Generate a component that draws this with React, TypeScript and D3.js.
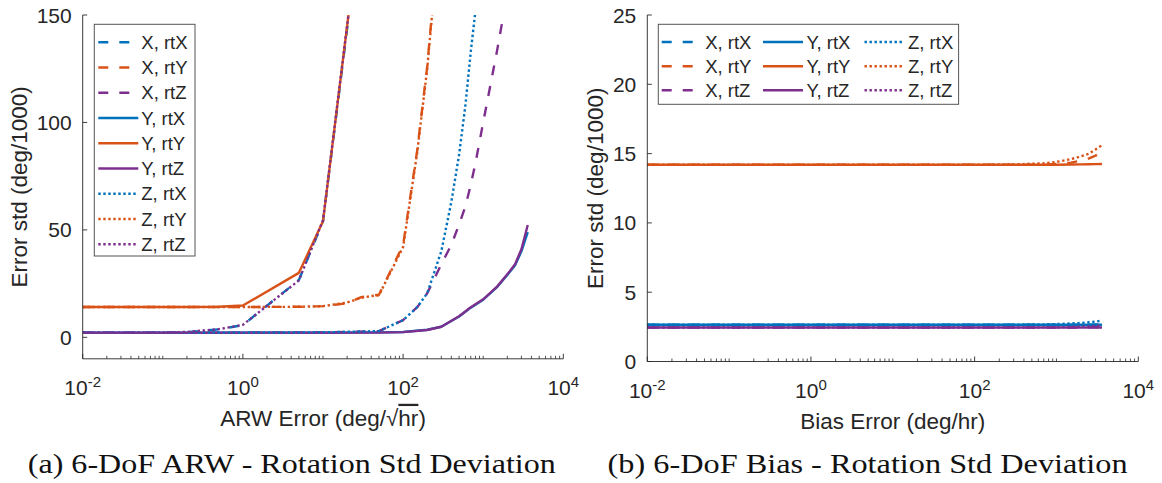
import React from 'react';
import * as d3 from 'd3';

const BLUE = '#0072BD';
const ORANGE = '#D95319';
const PURPLE = '#7E2F8E';
const INK = '#262626';

// ---------- (a) ARW panel data ----------
const arwXSteep = [0.01, 0.1, 0.2, 0.5, 1, 5, 10, 50];
const arwXrtX = [2.2, 2.2, 2.4, 3.7, 5.7, 26.7, 54, 262];
const arwYrtY = [14.1, 14.1, 14.1, 14.2, 14.8, 30, 54, 265];
const arwZrtZ = [2.2, 2.2, 2.5, 3.8, 5.8, 26.5, 54.5, 265];

const arwXMid = [0.01, 1, 5, 10, 20, 30, 40, 50, 100, 150, 200, 300];
const arwXrtY = [14.1, 14.1, 14.2, 14.5, 15.8, 18.7, 19.4, 19.8, 43, 87, 126, 200];
const arwZrtY = [14.1, 14.1, 14.2, 14.5, 16.2, 18.4, 19.2, 19.6, 42, 86, 125, 198];

const arwXSlow = [0.01, 1, 10, 50, 100, 150, 200, 300, 400, 500, 600, 700, 800, 1000, 1500, 2000];
const arwZrtX = [2.2, 2.2, 2.3, 2.9, 8.0, 14, 20.5, 40, 63, 85, 108, 133, 152, 200, 290, 380];
const arwXrtZ = [2.2, 2.2, 2.3, 2.9, 8.0, 14, 20.5, 34, 43, 52.5, 61, 71, 81, 100, 134, 160];

const arwXFlat = [0.01, 1, 10, 50, 100, 200, 300, 500, 700, 1000, 1500, 2000, 2500, 3000, 3600];
const arwYrtX = [2.2, 2.2, 2.2, 2.3, 2.5, 3.5, 4.9, 9.7, 13.8, 17.5, 23.5, 29, 33.5, 40, 49];
const arwYrtZ = [2.1, 2.1, 2.1, 2.2, 2.4, 3.4, 4.9, 9.8, 14, 17.7, 23.7, 29.3, 34, 41, 52.3];

// ---------- (b) Bias panel data ----------
const biasX = [0.01, 1, 100, 300, 700, 1000, 1500, 2000, 2500, 3000, 3600];
const biasXrtX = [2.65, 2.65, 2.65, 2.65, 2.65, 2.65, 2.65, 2.66, 2.66, 2.67, 2.68];
const biasXrtY = [14.2, 14.2, 14.2, 14.2, 14.2, 14.25, 14.35, 14.5, 14.65, 14.85, 15.1];
const biasXrtZ = [2.45, 2.45, 2.45, 2.45, 2.45, 2.45, 2.45, 2.46, 2.46, 2.47, 2.48];
const biasYrtX = [2.65, 2.65, 2.65, 2.65, 2.65, 2.65, 2.65, 2.65, 2.65, 2.65, 2.65];
const biasYrtY = [14.2, 14.2, 14.2, 14.2, 14.2, 14.2, 14.21, 14.22, 14.23, 14.24, 14.25];
const biasYrtZ = [2.45, 2.45, 2.45, 2.45, 2.45, 2.45, 2.45, 2.45, 2.45, 2.45, 2.45];
const biasZrtX = [2.65, 2.65, 2.65, 2.66, 2.68, 2.7, 2.74, 2.78, 2.83, 2.88, 2.95];
const biasZrtY = [14.2, 14.2, 14.2, 14.22, 14.3, 14.4, 14.6, 14.8, 15.0, 15.3, 15.6];
const biasZrtZ = [2.45, 2.45, 2.45, 2.45, 2.46, 2.47, 2.49, 2.51, 2.53, 2.56, 2.6];

const seriesLabels = ['X, rtX', 'X, rtY', 'X, rtZ', 'Y, rtX', 'Y, rtY', 'Y, rtZ', 'Z, rtX', 'Z, rtY', 'Z, rtZ'];
const seriesColors = [BLUE, ORANGE, PURPLE, BLUE, ORANGE, PURPLE, BLUE, ORANGE, PURPLE];
const seriesStyles = ['dashed', 'dashed', 'dashed', 'solid', 'solid', 'solid', 'dotted', 'dotted', 'dotted'];

const arwYTicks = [0, 50, 100, 150];
const biasYTicks = [0, 5, 10, 15, 20, 25];
const xMajorExp = [-2, 0, 2, 4];

const DASH: Record<string, string | undefined> = {
  dashed: '10 11',
  solid: undefined,
  dotted: '2.4 2.6',
};
const LW = 2.4;

type S = { label: string; color: string; style: string; xs: number[]; ys: number[] };

function makeSeries(xsList: number[][], ysList: number[][]): S[] {
  return seriesLabels.map((label, i) => ({
    label,
    color: seriesColors[i],
    style: seriesStyles[i],
    xs: xsList[i],
    ys: ysList[i],
  }));
}

const arwSeries = makeSeries(
  [arwXSteep, arwXMid, arwXSlow, arwXFlat, arwXSteep, arwXFlat, arwXSlow, arwXMid, arwXSteep],
  [arwXrtX, arwXrtY, arwXrtZ, arwYrtX, arwYrtY, arwYrtZ, arwZrtX, arwZrtY, arwZrtZ]
);
const biasSeries = makeSeries(
  [biasX, biasX, biasX, biasX, biasX, biasX, biasX, biasX, biasX],
  [biasXrtX, biasXrtY, biasXrtZ, biasYrtX, biasYrtY, biasYrtZ, biasZrtX, biasZrtY, biasZrtZ]
);

type PanelProps = {
  id: string;
  xRange: [number, number];
  yDomain: [number, number];
  yRange: [number, number];
  yTicks: number[];
  series: S[];
  ylabelX: number;
  xlabel: React.ReactNode;
  caption: string;
  captionX: number;
  captionLen: number;
  legend: { x: number; y: number; w: number; h: number; cols: number; rowY: number[]; colX: number[]; sampleW: number; textDx: number };
};

function Panel(p: PanelProps) {
  const x = d3.scaleLog().domain([1e-2, 1e4]).range(p.xRange);
  const y = d3.scaleLinear().domain(p.yDomain).range(p.yRange);
  const line = d3
    .line<[number, number]>()
    .x((d) => x(d[0]))
    .y((d) => y(d[1]));
  const axY = p.yRange[0];
  const axX = p.xRange[0];
  const minors: number[] = [];
  for (let e = -2; e < 4; e++) {
    for (let k = 1; k < 10; k++) {
      if (k === 1 && e % 2 === 0) continue;
      minors.push(k * Math.pow(10, e));
    }
  }
  const font = 'Liberation Sans, Arial, Helvetica, sans-serif';
  const lg = p.legend;
  return (
    <g>
      <defs>
        <clipPath id={p.id}>
          <rect x={p.xRange[0]} y={p.yRange[1]} width={p.xRange[1] - p.xRange[0]} height={p.yRange[0] - p.yRange[1]} />
        </clipPath>
      </defs>
      {/* data lines */}
      <g clipPath={`url(#${p.id})`}>
        {p.series.map((s, i) => (
          <path
            key={i}
            d={line(s.xs.map((v, j) => [v, s.ys[j]] as [number, number])) || ''}
            fill="none"
            stroke={s.color}
            strokeWidth={LW}
            strokeDasharray={DASH[s.style]}
            strokeLinejoin="round"
          />
        ))}
      </g>
      {/* axes */}
      <line x1={axX} x2={axX} y1={p.yRange[1]} y2={axY} stroke={INK} strokeWidth={0.9} />
      <line x1={axX} x2={p.xRange[1]} y1={axY} y2={axY} stroke={INK} strokeWidth={0.9} />
      {minors.map((v, i) => (
        <line key={'mn' + i} x1={x(v)} x2={x(v)} y1={axY} y2={axY - 3} stroke={INK} strokeWidth={0.8} />
      ))}
      {xMajorExp.map((e) => (
        <g key={'mj' + e}>
          <line x1={x(Math.pow(10, e))} x2={x(Math.pow(10, e))} y1={axY} y2={axY - 5} stroke={INK} strokeWidth={0.9} />
          <text x={x(Math.pow(10, e))} y={axY + 36.5} textAnchor="middle" fontFamily={font} fontSize={21} fill={INK}>
            10
            <tspan dy={-8.5} fontSize={15}>
              {e}
            </tspan>
          </text>
        </g>
      ))}
      {p.yTicks.map((t) => (
        <g key={'yt' + t}>
          <line x1={axX} x2={axX + 4.5} y1={y(t)} y2={y(t)} stroke={INK} strokeWidth={0.9} />
          <text x={axX - 11} y={y(t)} dy="0.36em" textAnchor="end" fontFamily={font} fontSize={21} fill={INK}>
            {t}
          </text>
        </g>
      ))}
      {/* labels */}
      <text
        transform={`translate(${p.ylabelX},${(p.yRange[0] + p.yRange[1]) / 2}) rotate(-90)`}
        textAnchor="middle"
        fontFamily={font}
        fontSize={22.5}
        fill={INK}
      >
        Error std (deg/1000)
      </text>
      <text x={(p.xRange[0] + p.xRange[1]) / 2} y={axY + 67} textAnchor="middle" fontFamily={font} fontSize={22.5} fill={INK}>
        {p.xlabel}
      </text>
      <text
        x={p.captionX}
        y={473.3}
        textAnchor="middle"
        fontFamily="Liberation Serif, 'DejaVu Serif', serif"
        fontSize={26.5}
        fill="#111"
        textLength={p.captionLen}
        lengthAdjust="spacingAndGlyphs"
      >
        {p.caption}
      </text>
      {/* legend */}
      <rect x={lg.x} y={lg.y} width={lg.w} height={lg.h} fill="#fff" stroke="#555" strokeWidth={1} />
      {p.series.map((s, i) => {
        const col = Math.floor(i / lg.rowY.length) % lg.cols;
        const row = i % lg.rowY.length;
        const cx = lg.colX[col];
        const cy = lg.rowY[row];
        return (
          <g key={'lg' + i}>
            <line x1={cx} x2={cx + lg.sampleW} y1={cy} y2={cy} stroke={s.color} strokeWidth={LW} strokeDasharray={DASH[s.style]} />
            <text x={cx + lg.sampleW + lg.textDx} y={cy} dy="0.36em" fontFamily={font} fontSize={18.5} fill={INK}>
              {s.label}
            </text>
          </g>
        );
      })}
    </g>
  );
}

export default function App() {
  const leftRows = seriesLabels.map((_, i) => 42.2 + i * 25.25);
  return (
    <svg
      width={1162}
      height={483}
      viewBox="0 0 1162 483"
      style={{ position: 'absolute', left: 0, top: 0, background: '#fff' }}
    >
      <rect x={0} y={0} width={1162} height={483} fill="#fff" />
      <Panel
        id="clipA"
        xRange={[82.7, 563.3]}
        yDomain={[-10, 150]}
        yRange={[358.8, 15]}
        yTicks={arwYTicks}
        series={arwSeries}
        ylabelX={27}
        xlabel={
          <>
            ARW Error (deg/<tspan>√</tspan>
            <tspan style={{ textDecoration: 'overline' }}>hr</tspan>)
          </>
        }
        caption="(a) 6-DoF ARW - Rotation Std Deviation"
        captionX={291.8}
        captionLen={528}
        legend={{ x: 94.3, y: 24.3, w: 100.7, h: 231.7, cols: 1, rowY: leftRows, colX: [98.3], sampleW: 40, textDx: 3 }}
      />
      <Panel
        id="clipB"
        xRange={[647.3, 1138.3]}
        yDomain={[0, 25]}
        yRange={[361.5, 15]}
        yTicks={biasYTicks}
        series={biasSeries}
        ylabelX={603}
        xlabel="Bias Error (deg/hr)"
        caption="(b) 6-DoF Bias - Rotation Std Deviation"
        captionX={867.6}
        captionLen={520}
        legend={{ x: 658.3, y: 24.3, w: 300.3, h: 80, cols: 3, rowY: [42, 66.3, 90.3], colX: [661.7, 763, 864.5], sampleW: 40, textDx: 3.5 }}
      />
    </svg>
  );
}
